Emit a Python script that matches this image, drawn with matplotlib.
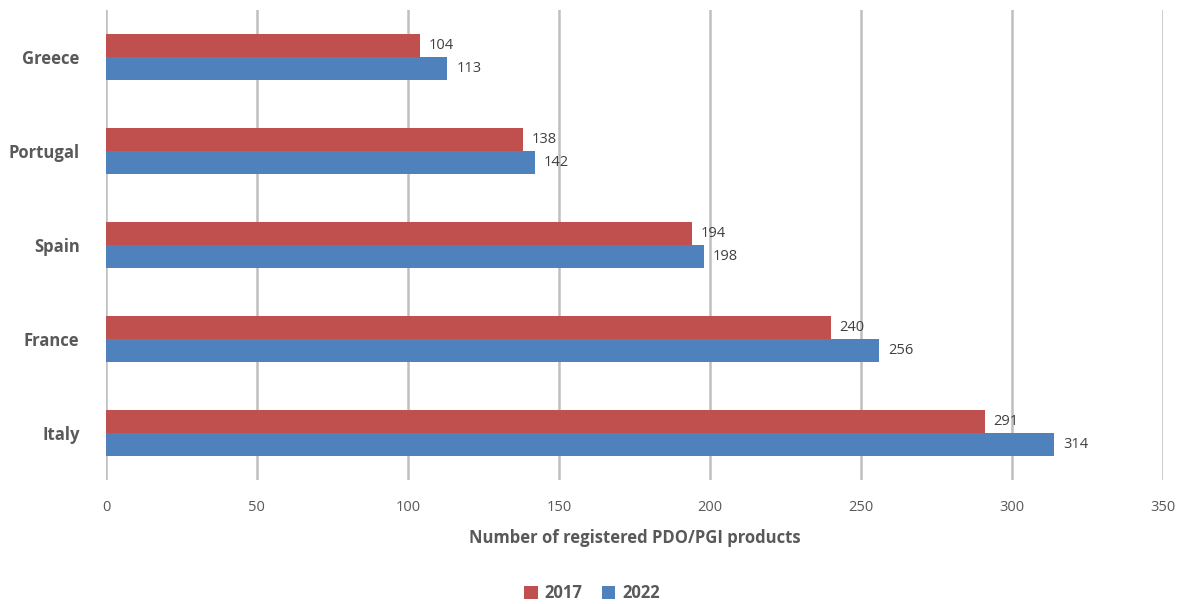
import numpy as np
import matplotlib
matplotlib.use('Agg')
import matplotlib.pyplot as plt

countries = ["Greece", "Portugal", "Spain", "France", "Italy"]
vals_2017 = [104, 138, 194, 240, 291]
vals_2022 = [113, 142, 198, 256, 314]
years = ["2017", "2022"]

plt.rcParams['font.family'] = ['Open Sans', 'DejaVu Sans']

red = '#C0504D'
blue = '#4F81BD'
txt = '#595959'

fig = plt.figure(figsize=(11.84, 6.04), dpi=100)
ax = fig.add_axes([0.0895, 0.205, 0.8925, 0.778])

y = np.arange(len(countries))
h = 0.245
b1 = ax.barh(y - h / 2, vals_2017, height=h, color=red, label=years[0], zorder=3)
b2 = ax.barh(y + h / 2, vals_2022, height=h, color=blue, label=years[1], zorder=3)

for bars, vals in ((b1, vals_2017), (b2, vals_2022)):
    for bar, v in zip(bars, vals):
        ax.text(v + 3, bar.get_y() + bar.get_height() / 2, str(v),
                va='center', ha='left', fontsize=10.5, color='#404040')

ax.set_xlim(0, 350)
ax.set_ylim(len(countries) - 0.5, -0.5)
ax.set_xticks(np.arange(0, 351, 50))
ax.set_yticks(y)
ax.set_yticklabels(countries, fontsize=12, fontweight='bold', color=txt)
ax.tick_params(axis='x', labelsize=10.5, labelcolor=txt, length=0, pad=14)
ax.tick_params(axis='y', length=0, pad=19)

ax.grid(axis='x', color='#BFBFBF', linewidth=1.8, zorder=0)
for s in ax.spines.values():
    s.set_visible(False)

ax.set_xlabel("Number of registered PDO/PGI products", fontsize=12,
              fontweight='bold', color=txt, labelpad=10)

leg = fig.legend(handles=[b1, b2], labels=years, loc='center', bbox_to_anchor=(0.5, 0.018),
                 ncol=2, frameon=False, handlelength=0.8, handleheight=0.8,
                 columnspacing=1.2, handletextpad=0.4,
                 prop={'weight': 'bold', 'size': 12})
for t in leg.get_texts():
    t.set_color(txt)

fig.savefig("out.png", dpi=100)
